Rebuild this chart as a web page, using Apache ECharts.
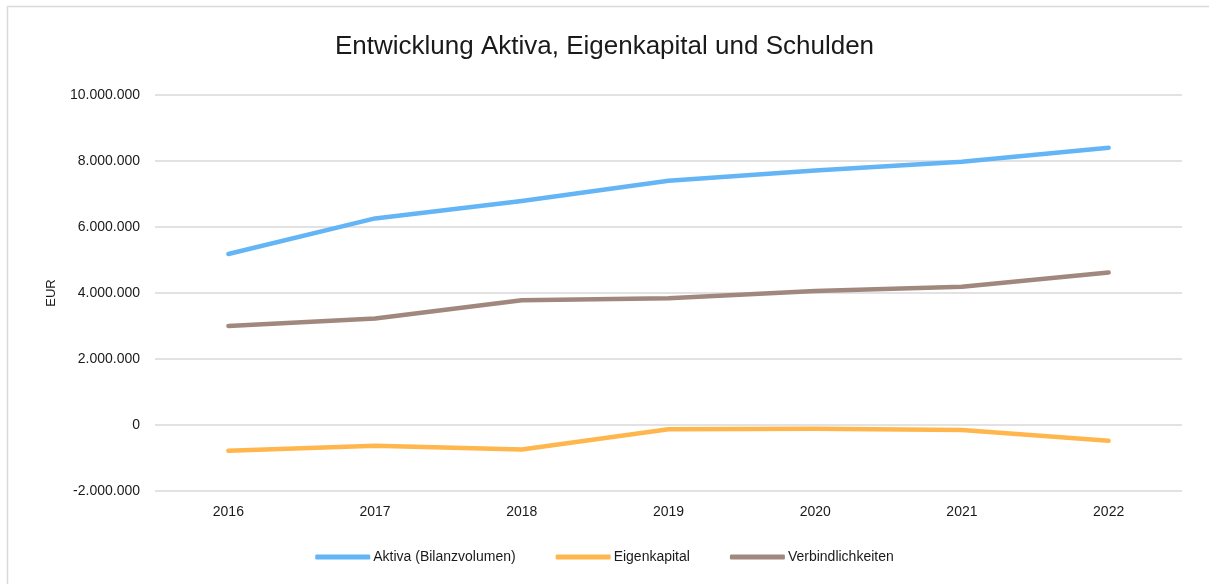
<!DOCTYPE html>
<html>
<head>
<meta charset="utf-8">
<script src="https://cdn.jsdelivr.net/npm/echarts@6/dist/echarts.min.js"></script>
<style>
html,body{margin:0;padding:0;background:#fff;}
#c{width:1209px;height:584px;}
</style>
</head>
<body>
<div id="c"></div>
<script>
const categories = ['2016','2017','2018','2019','2020','2021','2022'];
const aktiva = [5180000, 6260000, 6790000, 7400000, 7710000, 7980000, 8400000];
const eigenkapital = [-780000, -630000, -740000, -130000, -110000, -150000, -480000];
const verbindlichkeiten = [3000000, 3230000, 3780000, 3840000, 4060000, 4190000, 4620000];
const seriesNames = ['Aktiva (Bilanzvolumen)', 'Eigenkapital', 'Verbindlichkeiten'];

const FONT = 'Liberation Sans';
function fmt(v){
  const neg = v < 0; let s = String(Math.abs(Math.round(v)));
  s = s.replace(/\B(?=(\d{3})+(?!\d))/g, '.');
  return (neg ? '-' : '') + s;
}
const chart = echarts.init(document.getElementById('c'), null, {renderer:'canvas'});
const colors = ['#64b5f6', '#ffb74d', '#a1887f'];
function mk(name, data, color){
  return {name, type:'line', data, symbol:'none', smooth:false,
    lineStyle:{width:4.5, color, cap:'round', join:'round'}, itemStyle:{color}};
}
chart.setOption({
  animation:false,
  backgroundColor:'#ffffff',
  graphic:[{type:'rect', shape:{x:7.5, y:6.5, width:1220, height:600},
    style:{fill:'none', stroke:'#d9d9d9', lineWidth:1.5}, silent:true}],
  title:{text:'Entwicklung Aktiva, Eigenkapital und Schulden', left:'center', top:29,
    textStyle:{fontFamily:FONT, fontSize:26, fontWeight:'normal', color:'#1a1a1a'}},
  grid:{left:155, right:27, top:95, bottom:93, containLabel:false},
  legend:{data:seriesNames, bottom:15, left:'center', itemWidth:55, itemHeight:5, itemGap:40,
    icon:'roundRect',
    textStyle:{fontFamily:FONT, fontSize:14, color:'#1a1a1a', padding:[0,0,0,-2]}},
  xAxis:{type:'category', data:categories, boundaryGap:true,
    axisLine:{show:false}, axisTick:{show:false},
    axisLabel:{fontFamily:FONT, fontSize:14, color:'#1a1a1a', margin:14}},
  yAxis:{type:'value', min:-2000000, max:10000000, interval:2000000,
    name:'EUR', nameLocation:'middle', nameGap:97, nameRotate:90,
    nameTextStyle:{fontFamily:FONT, fontSize:13, color:'#1a1a1a'},
    axisLine:{show:false}, axisTick:{show:false},
    axisLabel:{fontFamily:FONT, fontSize:14, color:'#1a1a1a', margin:15, formatter:fmt},
    splitLine:{lineStyle:{color:'#d9d9d9', width:1.5}}},
  series:[mk(seriesNames[0], aktiva, colors[0]), mk(seriesNames[1], eigenkapital, colors[1]), mk(seriesNames[2], verbindlichkeiten, colors[2])]
});
</script>
</body>
</html>
